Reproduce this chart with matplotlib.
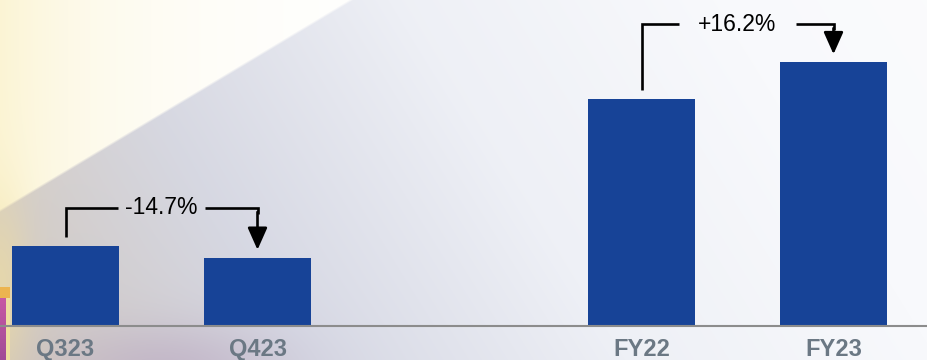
import numpy as np
import matplotlib.pyplot as plt

plt.rcParams['font.family'] = ['Liberation Sans', 'DejaVu Sans']

# bar data
periods = ['Q323', 'Q423', 'FY22', 'FY23']
positions = [0, 1, 3, 4]
values = [80.0, 68.2, 227.0, 263.8]

# change brackets: (from bar, to bar, label)
changes = [(0, 1, '-14.7%'), (2, 3, '+16.2%')]
gap_half = [0.227, 0.305]   # half-width of the break in the bracket line

bar_color = '#174397'
label_color = '#6b7884'

W, H = 928, 360
fig = plt.figure(figsize=(W / 100, H / 100), dpi=100)

# backdrop: white/yellow wedge top-left, soft grey-lavender fading to white on the right
yy, xx = np.mgrid[0:H, 0:W].astype(float)
u = xx * 0.8 + (H - yy) * 0.5
stops = [0, 250, 500, 750, 1000]
lo = np.dstack([np.interp(u, stops, [202, 214, 238, 248, 252]),
                np.interp(u, stops, [196, 216, 240, 249, 252]),
                np.interp(u, stops, [196, 228, 246, 252, 253])])
warm = (np.exp(-xx / 90.0) * 0.35)[..., None]
lo = lo * (1 - warm) + np.array([228, 212, 175]) * warm
hi = np.full_like(lo, 255.0)
w_y = (np.exp(-xx / 120.0) * 0.5)[..., None]
hi = hi * (1 - w_y) + np.array([248, 234, 170]) * w_y
edge = np.clip(((210 - 0.6 * xx) - yy) / 3.0 + 0.5, 0, 1)[..., None]
bg = lo * (1 - edge) + hi * edge
glow = (np.exp(-(xx / 28.0) ** 2 - ((yy - 290) / 90.0) ** 2) * 0.6)[..., None]
bg = bg * (1 - glow) + np.array([240, 222, 160]) * glow
purple = (np.exp(-((xx - 170) / 110.0) ** 2 - ((yy - 370) / 45.0) ** 2) * 0.4)[..., None]
bg = bg * (1 - purple) + np.array([175, 150, 185]) * purple

# small box peeking in at the left edge
shade = np.clip((yy - 295) / 65.0, 0, 1)[..., None]
box_col = np.array([200, 90, 165]) * (1 - shade) + np.array([160, 75, 150]) * shade
box = (xx < 6) & (yy > 297)
bg[box] = box_col[box]
bg[(xx >= 6) & (xx < 10) & (yy > 292)] = [238, 222, 160]
bg[(xx < 10) & (yy > 286) & (yy <= 297)] = [236, 180, 80]

ax_bg = fig.add_axes([0, 0, 1, 1])
ax_bg.imshow(np.clip(bg, 0, 255).astype(np.uint8), aspect='auto', extent=[0, 1, 0, 1])
ax_bg.axis('off')

ax = fig.add_axes([0, 0, 1, 1])
ax.patch.set_alpha(0)
ax.set_xlim(-65.5 / 192, (W - 65.5) / 192)
ax.set_ylim(-34, 326)
ax.axis('off')

ax.bar(positions, values, width=0.557, color=bar_color, zorder=3)
ax.axhline(0, color='#8c8c8c', lw=1.5, zorder=4)

for pos, name in zip(positions, periods):
    ax.text(pos, -30, name, ha='center', va='baseline', fontsize=17,
            fontweight='bold', color=label_color)

for (i, j, txt), g in zip(changes, gap_half):
    x0, x1 = positions[i], positions[j]
    top = max(values[i], values[j]) + 38
    mid = (x0 + x1) / 2
    ax.plot([x0, x0, mid - g], [values[i] + 9, top, top], color='black',
            lw=1.9, solid_joinstyle='miter', solid_capstyle='butt')
    ax.plot([mid + g, x1, x1], [top, top, top - 6], color='black',
            lw=1.9, solid_joinstyle='miter', solid_capstyle='butt')
    ax.annotate('', xy=(x1, values[j] + 8), xytext=(x1, top - 4),
                arrowprops=dict(arrowstyle='-|>,head_length=0.9,head_width=0.4',
                                mutation_scale=15, lw=1.9, color='black',
                                shrinkA=0, shrinkB=0))
    ax.text(mid, top, txt, ha='center', va='center', fontsize=16.5, color='black')

fig.savefig('out.png', dpi=100)
